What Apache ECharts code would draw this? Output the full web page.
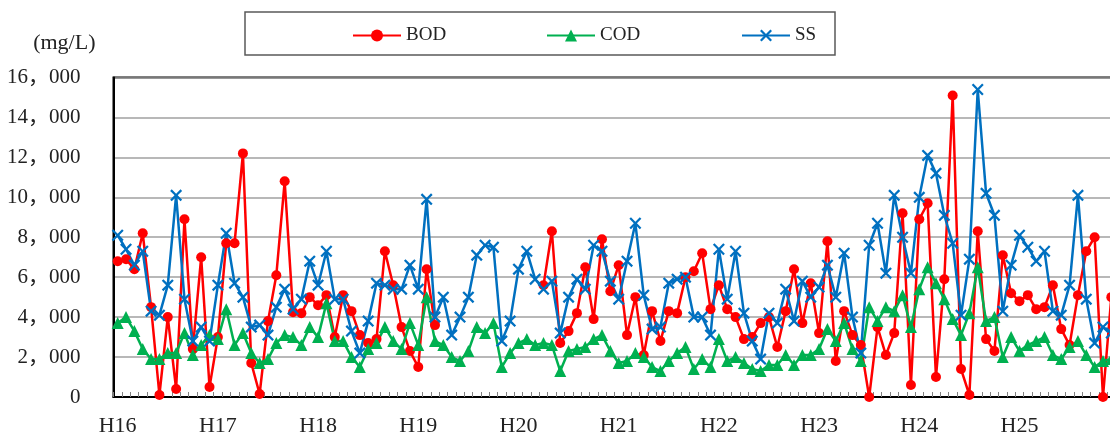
<!DOCTYPE html>
<html>
<head>
<meta charset="utf-8">
<script src="https://cdn.jsdelivr.net/npm/echarts@6/dist/echarts.min.js"></script>
<style>
  html, body { margin: 0; padding: 0; background: #fff; overflow: hidden; }
  /* the plot runs slightly past the right edge of the page */
  #chart { width: 1120px; height: 437px; }
</style>
</head>
<body>
<div id="chart"></div>
<script>
// Fiscal years on the horizontal axis, twelve monthly samples each
const years = ['H16', 'H17', 'H18', 'H19', 'H20', 'H21', 'H22', 'H23', 'H24', 'H25'];
const months = [4, 5, 6, 7, 8, 9, 10, 11, 12, 1, 2, 3];

// Monthly concentrations (mg/L); null = not measured
const bod = [
  6800, 6900, 6400, 8200, 4500, 100, 4000, 400, 8900, 2400, 7000, 500,
  3000, 7700, 7700, 12200, 1700, 150, 3800, 6100, 10800, 4250, 4200, 5000,
  4600, 5100, 3000, 5100, 4300, 3100, 2700, 2900, 7300, 5600, 3500, 2300,
  1500, 6400, 3600, null, null, null, null, null, null, null, null, null,
  null, null, null, 5600, 8300, 2700, 3300, 4200, 6500, 3900, 7900, 5300,
  6600, 3100, 5000, 2100, 4300, 2800, 4300, 4200, 6000, 6300, 7200, 4400,
  5600, 4400, 4000, 2900, 3000, 3700, 4000, 2500, 4300, 6400, 3700, 5700,
  3200, 7800, 1800, 4300, 3100, 2600, 0, 3500, 2100, 3200, 9200, 600,
  8900, 9700, 1000, 5900, 15100, 1400, 100, 8300, 2900, 2300, 7100, 5200,
  4800, 5100, 4400, 4500, 5600, 3400, 2600, 5100, 7300, 8000, 0, 5000
];
const cod = [
  3700, 4000, 3300, 2400, 1900, 1900, 2200, 2200, 3200, 2100, 2600, 3100,
  2900, 4400, 2600, 3200, 2200, 1700, 1900, 2700, 3100, 3000, 2600, 3500,
  3000, 4700, 2800, 2800, 2000, 1500, 2400, 2700, 3500, 2800, 2400, 3700,
  2600, 5000, 2800, 2600, 2000, 1800, 2300, 3500, 3200, 3700, 1500, 2200,
  2700, 2900, 2600, 2700, 2600, 1300, 2300, 2400, 2500, 2900, 3100, 2300,
  1700, 1800, 2200, 2000, 1500, 1300, 1800, 2200, 2500, 1400, 1900, 1500,
  2900, 1800, 2000, 1700, 1400, 1300, 1600, 1600, 2100, 1600, 2100, 2100,
  2400, 3400, 2800, 3700, 2400, 1800, 4500, 3800, 4500, 4300, 5100, 3500,
  5400, 6500, 5700, 4900, 3900, 3100, 4200, 6500, 3800, 4000, 2000, 3000,
  2300, 2600, 2800, 3000, 2100, 1900, 2500, 2800, 2100, 1500, 1800, 1900
];
const ss = [
  8100, 7400, 6600, 7300, 4300, 4100, 5600, 10100, 4900, 2800, 3500, 2800,
  5600, 8200, 5700, 5000, 3500, 3600, 3100, 4500, 5400, 4400, 4900, 6800,
  5600, 7300, 4900, 4900, 3300, 2200, 3800, 5700, 5600, 5400, 5400, 6600,
  5400, 9900, 4000, 5000, 3100, 4000, 5000, 7100, 7600, 7500, 2800, 3800,
  6400, 7300, 5900, 5400, 5800, 3200, 5000, 5900, 5400, 7600, 7300, 5800,
  4900, 6800, 8700, 5100, 3400, 3500, 5700, 5900, 6000, 4000, 4000, 3100,
  7400, 4900, 7300, 4200, 2800, 1900, 4200, 3700, 5400, 3800, 5800, 5000,
  5500, 6600, 5000, 7200, 4000, 2200, 7600, 8700, 6200, 10100, 8000, 6200,
  10000, 12100, 11200, 9100, 7700, 4100, 6900, 15400, 10200, 9100, 4300, 6600,
  8100, 7500, 6800, 7300, 4300, 4100, 5600, 10100, 4900, 2700, 3500, 3200
];

const seriesNames = ['BOD', 'COD', 'SS'];
const unitLabel = '(mg/L)';

const categories = years.flatMap(y => months.map(m => y + '.' + m));

const FONT = "'Liberation Serif', 'Noto Sans CJK JP', serif";
const TEXT = '#222';
const colors = { BOD: '#ff0000', COD: '#00b050', SS: '#0070c0' };
// saltire (x) marker outline
const crossPath = 'path://M0,1.6L1.6,0L6,4.4L10.4,0L12,1.6L7.6,6L12,10.4L10.4,12L6,7.6L1.6,12L0,10.4L4.4,6Z';

function thousands(v) {
  return String(v).replace(/\B(?=(\d{3})+(?!\d))/g, '，');
}

function lineSeries(name, data, symbol, size) {
  return {
    name: name,
    type: 'line',
    data: data,
    symbol: symbol,
    symbolSize: size,
    showAllSymbol: true,
    connectNulls: false,
    animation: false,
    lineStyle: { color: colors[name], width: 2.5 },
    itemStyle: { color: colors[name] },
    emphasis: { disabled: true }
  };
}

function legendFor(name, left) {
  return {
    data: [name],
    left: left,
    top: 26,
    padding: 0,
    itemWidth: 48,
    itemHeight: 15,
    itemGap: 0,
    selectedMode: false,
    textStyle: { fontFamily: FONT, fontSize: 19, color: TEXT }
  };
}

const chart = echarts.init(document.getElementById('chart'), null, { renderer: 'canvas' });
chart.setOption({
  backgroundColor: '#fff',
  animation: false,
  legend: [
    legendFor(seriesNames[0], 352),
    legendFor(seriesNames[1], 546),
    legendFor(seriesNames[2], 741)
  ],
  graphic: [{
    type: 'rect',
    shape: { x: 245, y: 12, width: 590, height: 43 },
    style: { fill: 'none', stroke: '#595959', lineWidth: 1.5 },
    silent: true
  }],
  grid: {
    left: 113.5,
    top: 77.5,
    width: 1002,
    height: 322.5,
    show: true,
    borderColor: '#000',
    borderWidth: 2,
    backgroundColor: 'transparent'
  },
  xAxis: {
    type: 'category',
    data: categories,
    boundaryGap: true,
    axisLine: { show: true, lineStyle: { color: '#000', width: 2 } },
    axisTick: { show: true, inside: true, interval: 0, length: 5, lineStyle: { color: '#808080', width: 1 } },
    axisLabel: {
      interval: 11,
      margin: 18,
      fontFamily: FONT,
      fontSize: 22,
      color: TEXT,
      formatter: v => v.split('.')[0]
    },
    splitLine: { show: false }
  },
  yAxis: {
    type: 'value',
    min: 0,
    max: 16000,
    interval: 2000,
    name: unitLabel,
    nameLocation: 'end',
    nameGap: 34,
    nameTextStyle: {
      fontFamily: FONT, fontSize: 22, color: TEXT,
      align: 'right', verticalAlign: 'middle', padding: [0, 18, 0, 0]
    },
    axisLine: { show: true, lineStyle: { color: '#000', width: 2 } },
    axisTick: { show: false },
    axisLabel: {
      margin: 33,
      fontFamily: FONT,
      fontSize: 21,
      color: TEXT,
      padding: [18, 0, 0, 0],
      formatter: thousands
    },
    splitLine: { show: true, lineStyle: { color: '#a0a0a0', width: 1.5 } }
  },
  series: [
    lineSeries(seriesNames[0], bod, 'circle', 10),
    lineSeries(seriesNames[1], cod, 'triangle', 12),
    lineSeries(seriesNames[2], ss, crossPath, 12)
  ]
});
</script>
</body>
</html>
